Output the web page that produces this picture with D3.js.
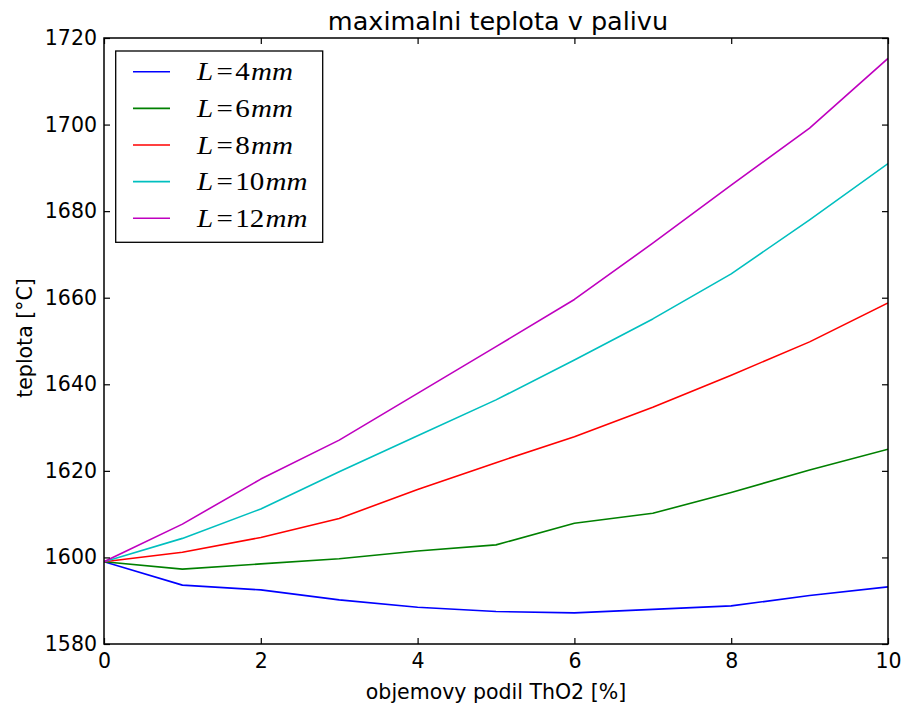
<!DOCTYPE html>
<html>
<head>
<meta charset="utf-8">
<script src="https://cdn.jsdelivr.net/npm/d3@7"></script>
<style>
  body { margin: 0; background: #fff; }
  svg { display: block; }
</style>
</head>
<body>
<svg id="chart" width="904" height="709"></svg>
<script>
const xValues = [0, 1, 2, 3, 4, 5, 6, 7, 8, 9, 10];
const seriesNames = ["4", "6", "8", "10", "12"];
const L4  = [1599.0, 1593.6, 1592.5, 1590.2, 1588.5, 1587.5, 1587.2, 1588.0, 1588.8, 1591.2, 1593.2];
const L6  = [1599.0, 1597.3, 1598.5, 1599.7, 1601.5, 1602.9, 1607.9, 1610.2, 1615.0, 1620.2, 1625.0];
const L8  = [1599.0, 1601.2, 1604.6, 1609.0, 1615.7, 1621.9, 1627.9, 1634.7, 1642.1, 1649.8, 1658.8];
const L10 = [1599.0, 1604.4, 1611.2, 1619.8, 1628.1, 1636.4, 1645.6, 1655.1, 1665.5, 1678.0, 1691.0];
const L12 = [1599.0, 1607.7, 1618.1, 1627.1, 1637.9, 1648.7, 1659.6, 1672.6, 1686.0, 1699.2, 1715.3];
const xTicks = [0, 2, 4, 6, 8, 10];
const yTicks = [1580, 1600, 1620, 1640, 1660, 1680, 1700, 1720];
const titleText = "maximalni teplota v palivu";
const xLabel = "objemovy podil ThO2 [%]";
const yLabel = "teplota [°C]";
const colors = ["#0000ff", "#008000", "#ff0000", "#00bfbf", "#bf00bf"];

const allSeries = [L4, L6, L8, L10, L12];

const svg = d3.select("#chart");
const m = { left: 104, top: 38, right: 888, bottom: 644 };
const x = d3.scaleLinear().domain([0, 10]).range([m.left, m.right]);
const y = d3.scaleLinear().domain([1580, 1720]).range([m.bottom, m.top]);
const sansFont = "'DejaVu Sans', sans-serif";
const tickLen = 6;

// clip
svg.append("defs").append("clipPath").attr("id", "clip")
  .append("rect").attr("x", m.left).attr("y", m.top)
  .attr("width", m.right - m.left).attr("height", m.bottom - m.top);

// lines
const line = d3.line().x((d, i) => x(xValues[i])).y(d => y(d));
svg.append("g").attr("clip-path", "url(#clip)")
  .selectAll("path").data(allSeries).join("path")
  .attr("d", d => line(d))
  .attr("fill", "none")
  .attr("stroke", (d, i) => colors[i])
  .attr("stroke-width", 1.6)
  .attr("stroke-linejoin", "round");

// axes (ticks inward on all four sides)
function styleAxis(g) {
  g.select(".domain").remove();
  g.selectAll(".tick line").attr("stroke", "#000").attr("stroke-width", 1.2);
  g.selectAll(".tick text").attr("fill", "#000")
    .style("font-family", sansFont).style("font-size", "20.5px");
}
const xAxisB = d3.axisBottom(x).tickValues(xTicks).tickFormat(d3.format("d"))
  .tickSizeInner(-tickLen).tickSizeOuter(0).tickPadding(9);
svg.append("g").attr("transform", `translate(0,${m.bottom})`).call(xAxisB).call(styleAxis)
  .selectAll(".tick text").attr("dy", "0.71em");
const xAxisT = d3.axisTop(x).tickValues(xTicks).tickFormat("")
  .tickSizeInner(-tickLen).tickSizeOuter(0);
svg.append("g").attr("transform", `translate(0,${m.top})`).call(xAxisT).call(styleAxis);
const yAxisL = d3.axisLeft(y).tickValues(yTicks).tickFormat(d3.format("d"))
  .tickSizeInner(-tickLen).tickSizeOuter(0).tickPadding(7);
svg.append("g").attr("transform", `translate(${m.left},0)`).call(yAxisL).call(styleAxis);
const yAxisR = d3.axisRight(y).tickValues(yTicks).tickFormat("")
  .tickSizeInner(-tickLen).tickSizeOuter(0);
svg.append("g").attr("transform", `translate(${m.right},0)`).call(yAxisR).call(styleAxis);

// frame
svg.append("rect").attr("x", m.left).attr("y", m.top)
  .attr("width", m.right - m.left).attr("height", m.bottom - m.top)
  .attr("fill", "none").attr("stroke", "#000").attr("stroke-width", 1.5);

// title and labels
svg.append("text").attr("x", (m.left + m.right) / 2 + 2).attr("y", 30)
  .attr("text-anchor", "middle").style("font-family", sansFont).style("font-size", "25.5px")
  .text(titleText);
svg.append("text").attr("x", (m.left + m.right) / 2).attr("y", 699)
  .attr("text-anchor", "middle").style("font-family", sansFont).style("font-size", "20.5px")
  .text(xLabel);
svg.append("text").attr("transform", `translate(31.5,${(m.top + m.bottom) / 2 - 3}) rotate(-90)`)
  .attr("text-anchor", "middle").style("font-family", sansFont).style("font-size", "20.5px")
  .text(yLabel);

// legend
const lg = svg.append("g");
lg.append("rect").attr("x", 115.7).attr("y", 51).attr("width", 207).attr("height", 191.3)
  .attr("fill", "#fff").attr("stroke", "#000").attr("stroke-width", 1.3);
const rowY = d => 71.7 + d * 36.65;
seriesNames.forEach((name, i) => {
  const cy = rowY(i);
  lg.append("line").attr("x1", 133).attr("x2", 170).attr("y1", cy).attr("y2", cy)
    .attr("stroke", colors[i]).attr("stroke-width", 1.6);
  const t = lg.append("text")
    .attr("transform", `translate(197,${cy + 8.5}) scale(1.14,1)`)
    .style("font-family", "'Liberation Serif', serif").style("font-size", "25.5px").attr("fill", "#000");
  t.append("tspan").style("font-style", "italic").text("L");
  t.append("tspan").attr("dx", 3).text("=");
  t.append("tspan").attr("dx", 2).text(name);
  t.append("tspan").style("font-style", "italic").attr("dx", 1).text("mm");
});
</script>
</body>
</html>
